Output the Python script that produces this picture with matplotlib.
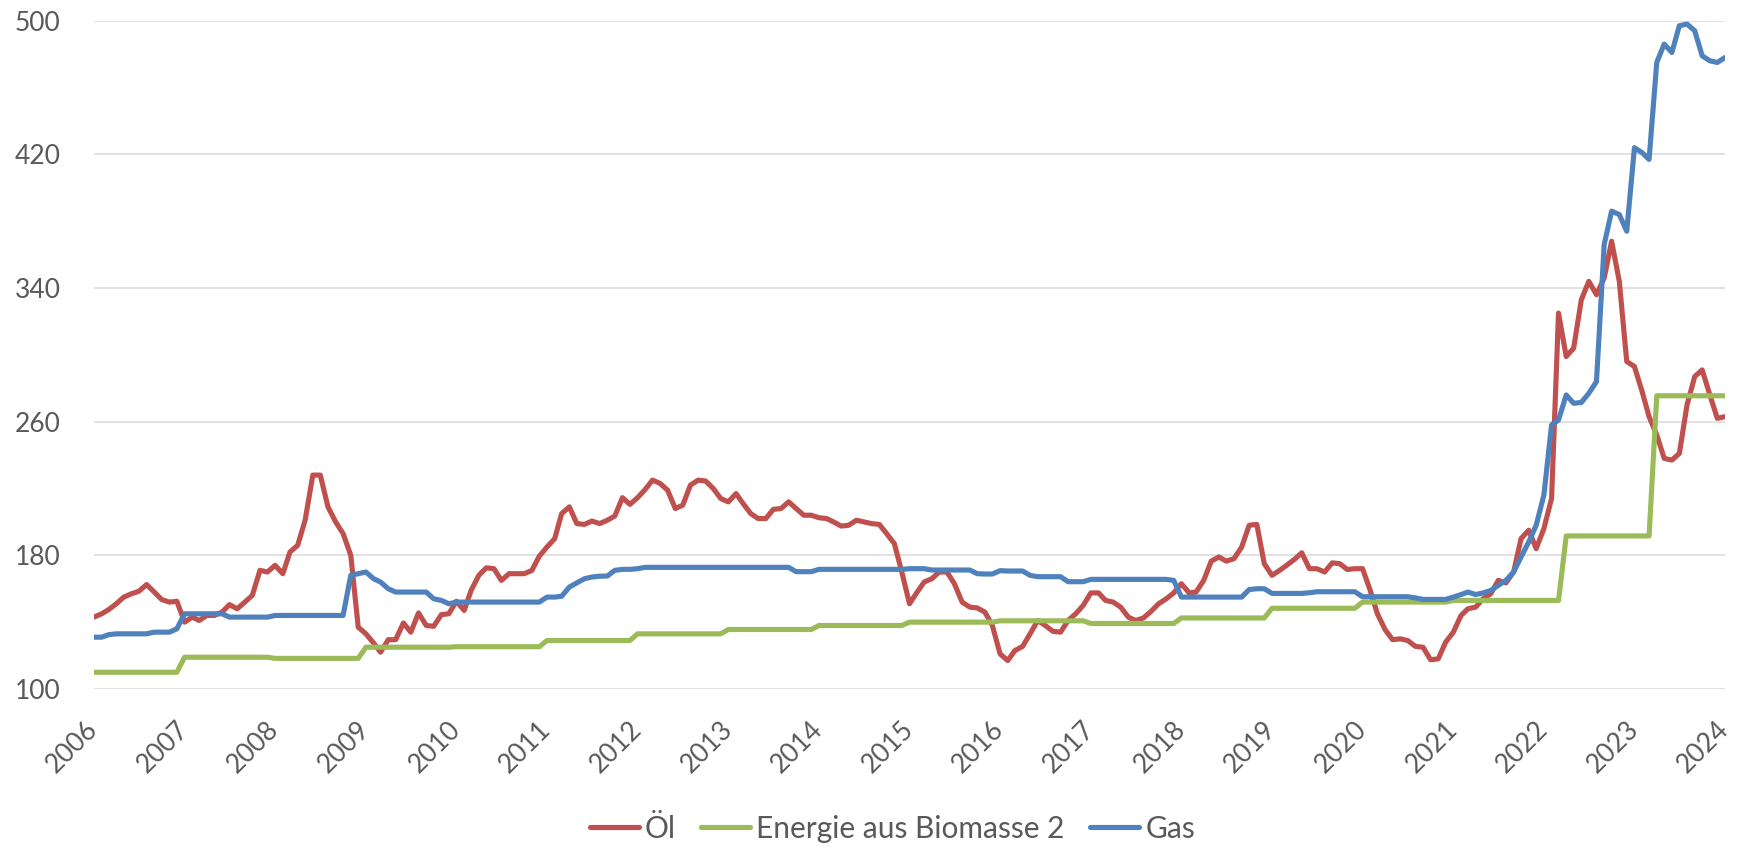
import matplotlib.pyplot as plt
import matplotlib.transforms as mtransforms
import pandas as pd

plt.rcParams["font.family"] = ["Lato", "DejaVu Sans"]

# monatliche Werte Jan 2006 .. Jan 2024
monate = pd.date_range("2006-01-01", "2024-01-01", freq="MS")

oel = [
    143, 145, 147.5, 151, 155, 157, 158.5, 162.5, 158, 153.5, 152, 152.5,   # 2006
    140, 143, 141, 144, 144, 146, 150.5, 148, 152, 156, 171, 170,           # 2007
    174, 169, 182, 186, 201, 228, 228, 209, 200, 193, 180, 137,             # 2008
    133, 127.5, 122, 129.5, 129.5, 139.5, 134, 145.5, 138, 137.5, 144.5, 145,  # 2009
    152.5, 147, 159, 168, 172.5, 172, 165, 169, 169, 169, 171, 179.5,       # 2010
    185, 190, 205, 209, 199, 198.5, 200.5, 199, 201, 203.5, 214.5, 210.5,   # 2011
    214.5, 219.5, 225, 223, 219, 208, 210, 222, 225, 224.5, 220, 214,       # 2012
    212, 217, 211, 205, 202, 202, 207.5, 208, 212, 208, 204, 204,           # 2013
    202.5, 202, 200, 197.5, 198, 201, 200, 199, 198.5, 193, 187, 170,       # 2014
    151, 158, 164, 166, 170, 170, 163, 152, 149, 148.5, 146, 138,           # 2015
    121, 117, 123, 125.5, 133, 141, 138, 134.5, 134, 141, 145, 150,         # 2016
    157.5, 157.5, 153, 152, 149, 143, 141, 142.5, 146.5, 151, 154, 157.5,   # 2017
    163, 157.5, 158, 165, 176.5, 179, 176.5, 178, 185, 198, 198.5, 175,     # 2018
    168, 171, 174, 177.5, 181.5, 172, 172, 170, 175.5, 175, 171.5, 172,     # 2019
    172, 159, 145, 135.5, 129.5, 130, 129, 125.5, 125, 117.5, 118, 128,     # 2020
    134, 144, 148, 149, 154, 157, 165, 163.5, 170, 190, 195, 184,           # 2021
    196, 214, 325, 299, 304, 333, 344, 336, 346, 368, 344, 296,             # 2022
    293, 278, 263, 252, 238, 237, 241, 270, 287, 291, 276, 262,             # 2023
    263,                                                                    # 2024
]

biomasse = [
    110, 110, 110, 110, 110, 110, 110, 110, 110, 110, 110, 110,
    119, 119, 119, 119, 119, 119, 119, 119, 119, 119, 119, 119,
    118.3, 118.3, 118.3, 118.3, 118.3, 118.3, 118.3, 118.3, 118.3, 118.3, 118.3, 118.3,
    125, 125, 125, 125, 125, 125, 125, 125, 125, 125, 125, 125,
    125.3, 125.3, 125.3, 125.3, 125.3, 125.3, 125.3, 125.3, 125.3, 125.3, 125.3, 125.3,
    129, 129, 129, 129, 129, 129, 129, 129, 129, 129, 129, 129,
    133, 133, 133, 133, 133, 133, 133, 133, 133, 133, 133, 133,
    135.6, 135.6, 135.6, 135.6, 135.6, 135.6, 135.6, 135.6, 135.6, 135.6, 135.6, 135.6,
    138, 138, 138, 138, 138, 138, 138, 138, 138, 138, 138, 138,
    140, 140, 140, 140, 140, 140, 140, 140, 140, 140, 140, 140,
    140.8, 140.8, 140.8, 140.8, 140.8, 140.8, 140.8, 140.8, 140.8, 140.8, 140.8, 140.8,
    139.2, 139.2, 139.2, 139.2, 139.2, 139.2, 139.2, 139.2, 139.2, 139.2, 139.2, 139.2,
    142.5, 142.5, 142.5, 142.5, 142.5, 142.5, 142.5, 142.5, 142.5, 142.5, 142.5, 142.5,
    148.3, 148.3, 148.3, 148.3, 148.3, 148.3, 148.3, 148.3, 148.3, 148.3, 148.3, 148.3,
    152, 152, 152, 152, 152, 152, 152, 152, 152, 152, 152, 152,
    153, 153, 153, 153, 153, 153, 153, 153, 153, 153, 153, 153,
    153, 153, 153, 191.6, 191.6, 191.6, 191.6, 191.6, 191.6, 191.6, 191.6, 191.6,
    191.6, 191.6, 191.6, 275.5, 275.5, 275.5, 275.5, 275.5, 275.5, 275.5, 275.5, 275.5,
    275.5,
]

gas = [
    131, 131, 132.5, 133, 133, 133, 133, 133, 134, 134, 134, 136,           # 2006
    145, 145, 145, 145, 145, 145, 143, 143, 143, 143, 143, 143,             # 2007
    144, 144, 144, 144, 144, 144, 144, 144, 144, 144, 168, 169,             # 2008
    170, 166, 164, 160, 158, 158, 158, 158, 158, 154, 153, 151,             # 2009
    152, 152, 152, 152, 152, 152, 152, 152, 152, 152, 152, 152,             # 2010
    155, 155, 155.5, 161, 163.5, 166, 167, 167.5, 167.6, 171, 171.6, 171.6, # 2011
    172, 172.8, 172.8, 172.8, 172.8, 172.8, 172.8, 172.8, 172.8, 172.8, 172.8, 172.8,  # 2012
    172.8, 172.8, 172.8, 172.8, 172.8, 172.8, 172.8, 172.8, 172.8, 170.2, 170.2, 170.2,  # 2013
    171.6, 171.6, 171.6, 171.6, 171.6, 171.6, 171.6, 171.6, 171.6, 171.6, 171.6, 171.6,  # 2014
    172, 172, 172, 171.2, 171.2, 171.2, 171.2, 171.2, 171.2, 169, 168.8, 168.8,  # 2015
    170.8, 170.6, 170.6, 170.6, 168, 167.2, 167.2, 167.2, 167.2, 164.2, 164.2, 164.2,  # 2016
    165.6, 165.6, 165.6, 165.6, 165.6, 165.6, 165.6, 165.6, 165.6, 165.6, 165.6, 165,  # 2017
    155, 155, 155, 155, 155, 155, 155, 155, 155, 159.5, 160, 160,           # 2018
    157.2, 157.2, 157.2, 157.2, 157.2, 157.6, 158.2, 158.2, 158.2, 158.2, 158.2, 158.2,  # 2019
    155.2, 155.2, 155.2, 155.2, 155.2, 155.2, 155.2, 154.5, 153.6, 153.6, 153.6, 153.6,  # 2020
    155, 156.5, 158, 156.5, 157.5, 159, 162, 165, 170, 179, 188, 198,       # 2021
    216, 258, 261, 276, 271, 271.5, 277, 284, 366, 386, 384, 374,           # 2022
    424, 421, 417, 475, 486, 481, 497, 498, 494, 479, 476, 475,             # 2023
    478,                                                                    # 2024
]

jahre = list(range(2006, 2025))
y_ticks = [100, 180, 260, 340, 420, 500]

fig = plt.figure(figsize=(17.44, 8.49), dpi=100)
ax = fig.add_axes([0.0539, 0.1885, 0.9352, 0.7871])

ax.plot(monate, oel, color="#C0504D", lw=3.7, label="Öl",
        solid_joinstyle="round", solid_capstyle="round")
ax.plot(monate, biomasse, color="#9BBB59", lw=3.7, label="Energie aus Biomasse 2",
        solid_joinstyle="round", solid_capstyle="round")
ax.plot(monate, gas, color="#4F81BD", lw=3.7, label="Gas",
        solid_joinstyle="round", solid_capstyle="round")

ax.set_ylim(100, 500)
ax.set_yticks(y_ticks)
ax.set_xlim(monate[0], monate[-1])
ax.set_xticks([pd.Timestamp(f"{j}-01-01") for j in jahre])
ax.set_xticklabels([str(j) for j in jahre], rotation=45, ha="right", va="center",
                   rotation_mode="anchor")

# Jahreszahlen etwas nach rechts schieben
verschiebung = mtransforms.ScaledTranslation(4 / 100, 0, fig.dpi_scale_trans)
for lbl in ax.get_xticklabels():
    lbl.set_transform(lbl.get_transform() + verschiebung)

ax.grid(axis="y", color="#D9D9D9", lw=1.1)
ax.set_axisbelow(True)
for s in ax.spines.values():
    s.set_visible(False)
ax.tick_params(length=0, labelsize=19, colors="#595959")
ax.tick_params(axis="y", pad=24)
ax.tick_params(axis="x", pad=26.5)

fig.legend(loc="center", bbox_to_anchor=(0.5117, 0.024), ncol=3, frameon=False,
           fontsize=21.5, labelcolor="#595959", handlelength=1.65, handletextpad=0.2,
           columnspacing=0.85)

fig.savefig("out.png", dpi=100)
